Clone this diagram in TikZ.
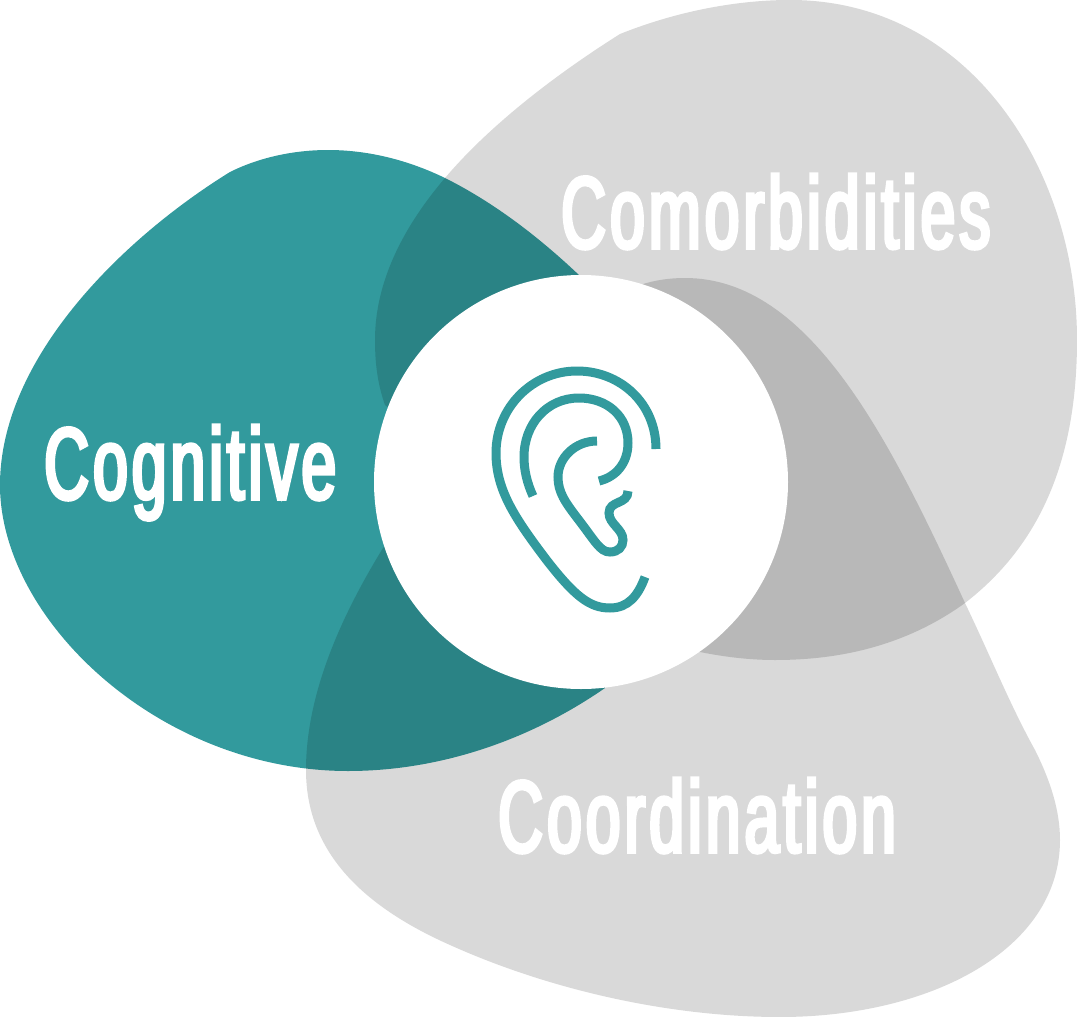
\documentclass[tikz,border=0pt]{standalone}
\usepackage{fontspec}
\newfontfamily\labelfont[FakeStretch=0.61,FakeBold=3.5,LetterSpace=4]{Liberation Sans}
\usepackage{tikz}
\definecolor{tealblob}{HTML}{329A9D}
\definecolor{grayblob}{HTML}{D9D9D9}
\tikzset{
  blob/.style={fill=grayblob, blend mode=multiply},
  earline/.style={draw=tealblob, line width=9pt, line cap=butt},
  blobtext/.style={text=white, anchor=base west, inner sep=0pt, font=\labelfont\fontsize{102}{102}\selectfont}
}

\begin{document}
\begin{tikzpicture}[x=1pt, y=-1pt]
\useasboundingbox (0,0) rectangle (1077,1017);

\fill [tealblob] (230,172) .. controls (260,157) and (295,150) .. (328,150)
  .. controls (370,150) and (410,161) .. (445,178)
  .. controls (495,203) and (540,238) .. (580,276) -- (605,688)
  .. controls (530,740) and (440,771) .. (348,771)
  .. controls (160,771) and (0,620) .. (0,485)
  .. controls (0,360) and (120,240) .. (230,172) -- cycle;

\fill [blob] (620,34) .. controls (680,10) and (740,0) .. (790,0)
  .. controls (970,0) and (1077,170) .. (1077,340)
  .. controls (1077,460) and (1040,545) .. (965,603)
  .. controls (900,650) and (830,660) .. (775,660)
  .. controls (750,660) and (725,657) .. (700,652) -- (385,405)
  .. controls (378,385) and (375,365) .. (375,340)
  .. controls (375,280) and (405,225) .. (445,178)
  .. controls (490,125) and (555,75) .. (620,34) -- cycle;

\fill [blob] (640,285) .. controls (655,280) and (670,278) .. (685,278)
  .. controls (810,278) and (890,440) .. (965,603)
  .. controls (990,655) and (1010,705) .. (1035,750)
  .. controls (1050,780) and (1060,810) .. (1060,840)
  .. controls (1060,950) and (930,1017) .. (780,1017)
  .. controls (670,1017) and (550,990) .. (450,945)
  .. controls (360,905) and (306,850) .. (306,770)
  .. controls (306,690) and (345,610) .. (383,548) -- cycle;

\node [circle, fill=white, minimum size=414pt, inner sep=0pt] (hub) at (581,482) {};

\node [blobtext] (cognitive) at (44,499) {Cognitive};
\node [blobtext] (comorbidities) at (561,248) {Comorbidities};
\node [blobtext] (coordination) at (498,852) {Coordination};

% ear
\draw [earline] (656,449) .. controls (656,403) and (620,371) .. (577,371)
  .. controls (532,371) and (496,408) .. (496,453)
  .. controls (496,490) and (515,518) .. (545,558)
  .. controls (575,597) and (590,608) .. (610,608)
  .. controls (628,608) and (638,596) .. (645,577);
\draw [earline] (533,496) .. controls (527,483) and (524,470) .. (524,457)
  .. controls (524,424) and (547,398) .. (579,398)
  .. controls (607,398) and (628,416) .. (628,443)
  .. controls (628,463) and (616,477) .. (599,481);
\draw [earline] (597,441) .. controls (575,441) and (558,458) .. (558,477)
  .. controls (558,492) and (565,502) .. (578,519)
  .. controls (595,541) and (600,552) .. (610,552)
  .. controls (618,552) and (623,547) .. (623,540)
  .. controls (623,529) and (609,524) .. (609,513)
  .. controls (609,500) and (628,505) .. (628,491);

\end{tikzpicture}
\end{document}
